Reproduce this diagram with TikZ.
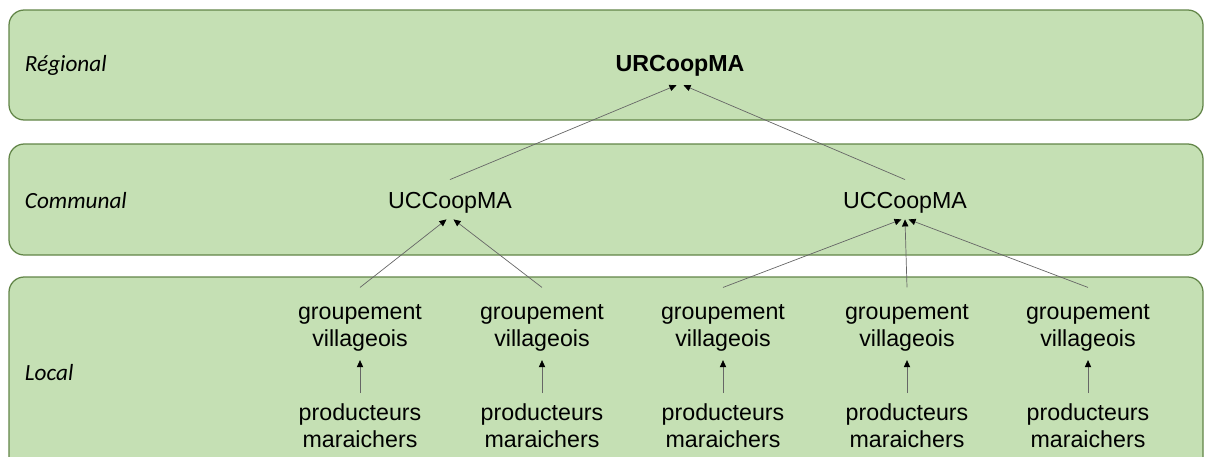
\documentclass[tikz,border=0pt]{standalone}
\usepackage{fontspec}
\setmainfont{Liberation Sans}
\newfontfamily\layerfont{Carlito}
\usetikzlibrary{arrows.meta,positioning}

\definecolor{layerfill}{RGB}{197,224,180}
\definecolor{layerline}{RGB}{98,133,72}

\begin{document}
\begin{tikzpicture}[x=0.025cm,y=-0.025cm,
        >={Triangle[length=5pt,width=4.5pt,color=black]},
        node distance=2.43cm,
        font=\fontsize{16.5}{19.2}\selectfont,
        layer/.style={draw=layerline,fill=layerfill,line width=0.9pt,rounded corners=0.38cm},
        lvl/.style={anchor=west,font=\layerfont\itshape\fontsize{16.5}{19.2}\selectfont},
        org/.style={align=center,inner sep=2pt},
        link/.style={->,draw=black!60,line width=0.5pt}]

  \useasboundingbox (0,0) rectangle (1205,456);
  \clip (0,0) rectangle (1205,456);

  % layers
  \draw[layer] (9,10) rectangle (1203,120);
  \draw[layer] (9,144) rectangle (1203,255);
  \draw[layer] (9,277) rectangle (1203,480);

  \node[lvl] (reg) at (20,65) {Régional};
  \node[lvl] (com) at (20,201) {Communal};
  \node[lvl] (loc) at (20,373) {Local};

  % organisations
  \node[org,font=\bfseries\fontsize{16.5}{19.2}\selectfont] (urc) at (680,66) {URCoopMA};
  \node[org] (ucc1) at (450,203) {UCCoopMA};
  \node[org] (ucc2) at (905,203) {UCCoopMA};

  \node[org] (gv1) at (360,328) {groupement\\villageois};
  \node[org] (gv2) at (542,328) {groupement\\villageois};
  \node[org] (gv3) at (723,328) {groupement\\villageois};
  \node[org] (gv4) at (907,328) {groupement\\villageois};
  \node[org] (gv5) at (1088,328) {groupement\\villageois};

  \node[org] (pm1) [below of=gv1] {producteurs\\maraichers};
  \node[org] (pm2) [below of=gv2] {producteurs\\maraichers};
  \node[org] (pm3) [below of=gv3] {producteurs\\maraichers};
  \node[org] (pm4) [below of=gv4] {producteurs\\maraichers};
  \node[org] (pm5) [below of=gv5] {producteurs\\maraichers};

  % links
  \draw[link] ([yshift=7pt]ucc1.north) -- ([xshift=-2.5pt,yshift=-4pt]urc.south);
  \draw[link] ([yshift=7pt]ucc2.north) -- ([xshift=2.5pt,yshift=-4pt]urc.south);

  \draw[link] ([yshift=10pt]gv1.north) -- ([xshift=-2.5pt,yshift=-2pt]ucc1.south);
  \draw[link] ([yshift=10pt]gv2.north) -- ([xshift=2.5pt,yshift=-2pt]ucc1.south);
  \draw[link] ([yshift=10pt]gv3.north) -- ([xshift=-2.5pt,yshift=-2pt]ucc2.south);
  \draw[link] ([yshift=10pt]gv4.north) -- ([yshift=-2pt]ucc2.south);
  \draw[link] ([yshift=10pt]gv5.north) -- ([xshift=2.5pt,yshift=-2pt]ucc2.south);

  \draw[link] ([yshift=5pt]pm1.north) -- ([yshift=-4pt]gv1.south);
  \draw[link] ([yshift=5pt]pm2.north) -- ([yshift=-4pt]gv2.south);
  \draw[link] ([yshift=5pt]pm3.north) -- ([yshift=-4pt]gv3.south);
  \draw[link] ([yshift=5pt]pm4.north) -- ([yshift=-4pt]gv4.south);
  \draw[link] ([yshift=5pt]pm5.north) -- ([yshift=-4pt]gv5.south);

\end{tikzpicture}
\end{document}
